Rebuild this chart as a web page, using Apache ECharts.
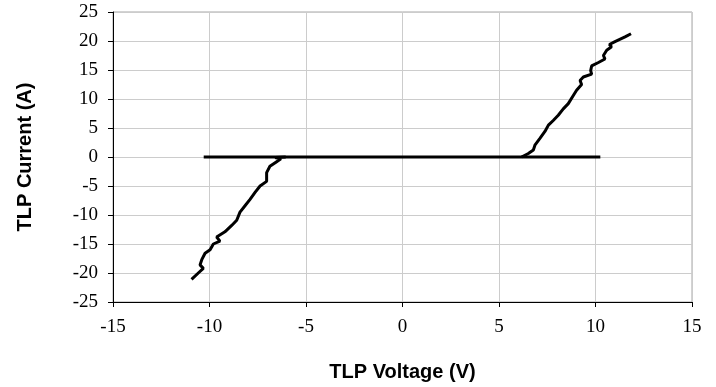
<!DOCTYPE html>
<html>
<head>
<meta charset="utf-8">
<script src="https://cdn.jsdelivr.net/npm/echarts@6/dist/echarts.min.js"></script>
<style>
html,body{margin:0;padding:0;background:#fff;}
#chart{width:716px;height:387px;}
</style>
</head>
<body>
<div id="chart"></div>
<script>
// TLP voltage (V) / current (A) readings
const baselineV = [-10.3, 10.25];
const baselineI = [0, 0];

const positiveV = [6.17, 6.26, 6.52, 6.78, 6.87, 7.12, 7.38, 7.56, 7.81, 8.07, 8.33, 8.59, 8.85, 9.02, 9.28, 9.2, 9.37, 9.8, 9.75, 9.8, 10.15, 10.49, 10.41, 10.58, 10.83, 10.72, 11.01, 11.53, 11.84];
const positiveI = [0, 0.3, 0.6, 1.2, 2.1, 3.2, 4.4, 5.5, 6.3, 7.2, 8.3, 9.2, 10.6, 11.5, 12.5, 13.2, 13.8, 14.3, 14.9, 15.7, 16.3, 16.9, 17.5, 18.4, 19.0, 19.4, 19.9, 20.7, 21.25];

const negativeV = [-6.05, -6.6, -6.3, -6.52, -6.87, -7.04, -7.04, -7.38, -7.64, -7.9, -8.16, -8.42, -8.59, -8.85, -9.2, -9.63, -9.46, -9.8, -9.97, -10.23, -10.4, -10.49, -10.32, -10.58, -10.93];
const negativeI = [0, -0.1, -0.3, -0.8, -1.6, -2.7, -4.2, -5.0, -6.1, -7.3, -8.4, -9.5, -10.9, -11.8, -12.9, -13.8, -14.5, -15.0, -16.0, -16.6, -17.7, -18.6, -19.2, -20.0, -21.1];

const xTicks = [-15, -10, -5, 0, 5, 10, 15];
const yTicks = [-25, -20, -15, -10, -5, 0, 5, 10, 15, 20, 25];

const xTitle = 'TLP Voltage (V)';
const yTitle = 'TLP Current (A)';

function pairs(xs, ys) { return xs.map((x, i) => [x, ys[i]]); }

const chart = echarts.init(document.getElementById('chart'), null, {renderer: 'canvas'});
const mk = (name, xs, ys) => ({
  name: name, type: 'line', data: pairs(xs, ys), showSymbol: false, symbol: 'none',
  lineStyle: {color: '#000', width: 3}, itemStyle: {color: '#000'}, animation: false, z: 3
});
chart.setOption({
  animation: false,
  grid: {left: 113, right: 24, top: 12, bottom: 81, show: true, borderColor: '#a6a6a6', borderWidth: 1},
  xAxis: {
    type: 'value', min: xTicks[0], max: xTicks[xTicks.length - 1], interval: 5,
    name: xTitle, nameLocation: 'middle', nameGap: 60,
    nameTextStyle: {fontFamily: 'Liberation Sans', fontWeight: 'bold', fontSize: 20, color: '#000'},
    axisLine: {onZero: false, lineStyle: {color: '#000', width: 1}},
    axisTick: {show: true, length: 5, lineStyle: {color: '#000'}},
    axisLabel: {show: true, margin: 16, fontFamily: 'Liberation Serif', fontSize: 19, color: '#000'},
    splitLine: {show: true, lineStyle: {color: '#cccccc', width: 1}}
  },
  yAxis: {
    type: 'value', min: yTicks[0], max: yTicks[yTicks.length - 1], interval: 5,
    name: yTitle, nameLocation: 'middle', nameGap: 78, nameRotate: 90,
    nameTextStyle: {fontFamily: 'Liberation Sans', fontWeight: 'bold', fontSize: 20, color: '#000'},
    axisLine: {onZero: false, lineStyle: {color: '#000', width: 1}},
    axisTick: {show: true, length: 5, lineStyle: {color: '#000'}},
    axisLabel: {show: true, margin: 15, fontFamily: 'Liberation Serif', fontSize: 19, color: '#000'},
    splitLine: {show: true, lineStyle: {color: '#cccccc', width: 1}}
  },
  series: [
    mk('baseline', baselineV, baselineI),
    mk('positive', positiveV, positiveI),
    mk('negative', negativeV, negativeI)
  ]
});
</script>
</body>
</html>
